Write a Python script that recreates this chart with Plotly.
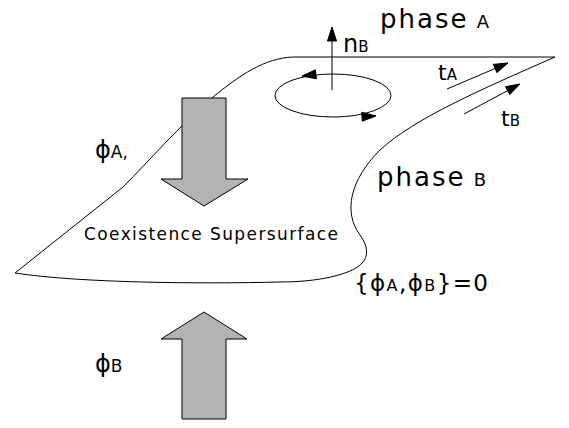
import math
import plotly.graph_objects as go

W, H = 569, 428

# ---- diagram geometry (pixel coordinates, y downward) ----
outline_start = (15, 273)
outline_segments = [
    ("L", [(123, 187)]),
    ("C", [(150, 160), (180, 125), (213, 97)]),
    ("C", [(240, 75), (265, 58), (293, 57)]),
    ("L", [(555, 57)]),
    ("C", [(480, 90), (415, 118), (380, 150)]),
    ("C", [(350, 180), (343, 212), (360, 235)]),
    ("C", [(372, 252), (368, 265), (345, 273)]),
    ("C", [(325, 280), (300, 282), (280, 282)]),
    ("C", [(200, 284), (80, 283), (15, 273)]),
]

down_arrow = [(182, 98), (226, 98), (226, 179), (248, 179), (204, 206), (161, 179), (182, 179)]
up_arrow = [(182, 419), (226, 419), (226, 339), (247, 339), (204, 312), (161, 339), (182, 339)]

ellipse_box = (275, 74, 391, 117)

thin_arrows = [((332, 90), (332, 27)),   # n_B
               ((447, 89), (508, 63)),   # t_A
               ((464, 114), (520, 84))]  # t_B

loop_heads = [((302, 76), (-1.0, 0.12)), ((376, 116), (1.0, -0.05))]

labels = [
    # (text, x, y, size)
    ("<span style='letter-spacing:2px'>phase</span> <span style='font-size:18px'>A</span>", 378, 19, 26),
    ("<span style='letter-spacing:2px'>phase</span> <span style='font-size:18px'>B</span>", 375, 177, 26),
    ("n<span style='font-size:15px'>B</span>", 341, 44, 24),
    ("t<span style='font-size:15px'>A</span>", 436, 72, 22),
    ("t<span style='font-size:15px'>B</span>", 499, 118, 22),
    ("ϕ<span style='font-size:17px'>A,</span>", 93, 150, 24),
    ("ϕ<span style='font-size:17px'>B</span>", 93, 364, 24),
    ("<span style='letter-spacing:1.4px'>Coexistence Supersurface</span>", 82, 234, 17),
    ("<span style='letter-spacing:1.4px'>{ϕ<span style='font-size:16px'>A</span>,ϕ<span style='font-size:16px'>B</span>}=0</span>", 352, 283, 23),
]

FILL = "#b3b3b3"
INK = "black"


def pts_path(pts, close=True):
    s = "M " + " L ".join(f"{x},{y}" for x, y in pts)
    return s + (" Z" if close else "")


def outline_path():
    s = f"M {outline_start[0]},{outline_start[1]}"
    for cmd, pts in outline_segments:
        s += f" {cmd} " + " ".join(f"{x},{y}" for x, y in pts)
    return s


def head(tip, d, length=14, half=4.5):
    dx, dy = d
    n = math.hypot(dx, dy)
    dx, dy = dx / n, dy / n
    bx, by = tip[0] - dx * length, tip[1] - dy * length
    px, py = -dy, dx
    return [tip, (bx + px * half, by + py * half), (bx - px * half, by - py * half)]


shapes = []
shapes.append(dict(type="path", path=outline_path(), line=dict(color=INK, width=1)))
for poly in (down_arrow, up_arrow):
    shapes.append(dict(type="path", path=pts_path(poly), fillcolor=FILL, line=dict(color=INK, width=1)))
x0, y0, x1, y1 = ellipse_box
shapes.append(dict(type="circle", x0=x0, y0=y0, x1=x1, y1=y1, line=dict(color=INK, width=1)))
for tail, tip in thin_arrows:
    shapes.append(dict(type="line", x0=tail[0], y0=tail[1], x1=tip[0], y1=tip[1], line=dict(color=INK, width=1)))
    d = (tip[0] - tail[0], tip[1] - tail[1])
    shapes.append(dict(type="path", path=pts_path(head(tip, d)), fillcolor=INK, line=dict(color=INK, width=1)))
for tip, d in loop_heads:
    shapes.append(dict(type="path", path=pts_path(head(tip, d)), fillcolor=INK, line=dict(color=INK, width=1)))

for s in shapes:
    s.update(xref="x", yref="y", layer="above")

annotations = [
    dict(text=t, x=x, y=y, xref="x", yref="y", showarrow=False, xanchor="left", yanchor="middle",
         font=dict(family="DejaVu Sans", size=sz, color=INK))
    for t, x, y, sz in labels
]

fig = go.Figure()
fig.update_layout(
    width=W, height=H, margin=dict(l=0, r=0, t=0, b=0),
    paper_bgcolor="white", plot_bgcolor="white",
    xaxis=dict(range=[0, W], visible=False, fixedrange=True),
    yaxis=dict(range=[H, 0], visible=False, fixedrange=True),
    shapes=shapes, annotations=annotations, showlegend=False,
)
fig.write_html("out.html", config={"displayModeBar": False, "staticPlot": True},
               post_script="document.body.style.margin='0px';")
